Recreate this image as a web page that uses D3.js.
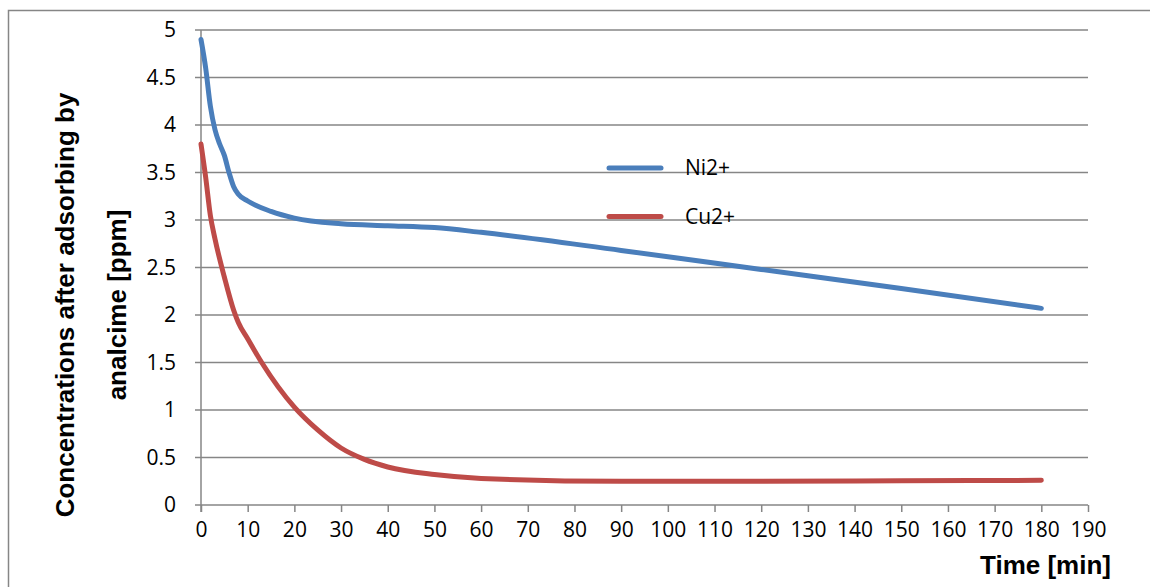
<!DOCTYPE html>
<html>
<head>
<meta charset="utf-8">
<script src="https://cdn.jsdelivr.net/npm/d3@7"></script>
<style>
  html, body { margin: 0; padding: 0; background: #fff; }
  svg { display: block; }
</style>
</head>
<body>
<svg id="chart" width="1150" height="587"></svg>
<script>
// ---- data ----
const niTime = [0, 1, 2, 3, 4, 5, 6, 7, 8, 10, 15, 20, 30, 40, 50, 60, 90, 120, 150, 180];
const niConc = [4.9, 4.6, 4.2, 3.95, 3.8, 3.68, 3.5, 3.35, 3.27, 3.2, 3.09, 3.02, 2.96, 2.94, 2.92, 2.87, 2.68, 2.48, 2.28, 2.07];
const cuTime = [0, 1, 2, 3, 5, 7, 8, 10, 13, 20, 25, 30, 35, 40, 50, 60, 90, 120, 150, 180];
const cuConc = [3.8, 3.45, 3.05, 2.8, 2.4, 2.05, 1.92, 1.75, 1.5, 1.03, 0.79, 0.6, 0.48, 0.4, 0.32, 0.28, 0.25, 0.25, 0.255, 0.26];
const seriesNames = ["Ni2+", "Cu2+"];
const seriesColors = ["#4a7ebb", "#be4b48"];
const xTicks = d3.range(0, 191, 10);
const yTicks = [0, 0.5, 1, 1.5, 2, 2.5, 3, 3.5, 4, 4.5, 5];
const xTitle = "Time [min]";
const yTitleLines = ["Concentrations after adsorbing by", "analcime [ppm]"];

(function () {
// ---- layout ----
const svg = d3.select("#chart");
const pLeft = 201, pRight = 1088, pTop = 30, pBottom = 505;
const x = d3.scaleLinear().domain([0, 190]).range([pLeft, pRight]);
const y = d3.scaleLinear().domain([0, 5]).range([pBottom, pTop]);
const gridColor = "#868686";

// outer frame
svg.append("rect").attr("x", 8.5).attr("y", 10.5).attr("width", 1160).attr("height", 600)
  .attr("fill", "none").attr("stroke", gridColor).attr("stroke-width", 1.5);

// horizontal gridlines (extend left as tick marks)
svg.append("g").selectAll("line").data(yTicks.filter(d => d > 0)).join("line")
  .attr("x1", pLeft - 6).attr("x2", pRight)
  .attr("y1", d => y(d)).attr("y2", d => y(d))
  .attr("stroke", gridColor).attr("stroke-width", 1.5);

// x axis
const xAxis = d3.axisBottom(x).tickValues(xTicks).tickSize(7).tickPadding(10).tickFormat(d3.format("d"));
const gx = svg.append("g").attr("transform", `translate(0,${pBottom})`).call(xAxis);
gx.select(".domain").remove();
gx.append("line").attr("x1", pLeft - 6).attr("x2", pRight).attr("stroke", gridColor).attr("stroke-width", 1.5);
gx.selectAll(".tick line").attr("stroke", gridColor).attr("stroke-width", 1.5);
gx.selectAll(".tick text").attr("fill", "#000").attr("font-family", "Open Sans").attr("font-size", 21).attr("dy", "0.72em");

// y axis
const yAxis = d3.axisLeft(y).tickValues(yTicks).tickSize(0).tickPadding(25).tickFormat(d => String(d));
const gy = svg.append("g").attr("transform", `translate(${pLeft},0)`).call(yAxis);
gy.select(".domain").remove();
gy.append("line").attr("y1", pTop).attr("y2", pBottom + 7).attr("stroke", gridColor).attr("stroke-width", 1.5);
gy.selectAll(".tick text").attr("fill", "#000").attr("font-family", "Open Sans").attr("font-size", 21);

// series
const series = [
  { name: seriesNames[0], color: seriesColors[0], pts: niTime.map((t, i) => [t, niConc[i]]) },
  { name: seriesNames[1], color: seriesColors[1], pts: cuTime.map((t, i) => [t, cuConc[i]]) }
];
const line = d3.line().x(d => x(d[0])).y(d => y(d[1])).curve(d3.curveMonotoneX);
svg.append("g").selectAll("path").data(series).join("path")
  .attr("d", d => line(d.pts))
  .attr("fill", "none").attr("stroke", d => d.color).attr("stroke-width", 5)
  .attr("stroke-linecap", "round").attr("stroke-linejoin", "round");

// legend
const lg = svg.append("g");
series.forEach((s, i) => {
  const ly = 168 + i * 48.5;
  lg.append("line").attr("x1", 609).attr("x2", 661).attr("y1", ly).attr("y2", ly)
    .attr("stroke", s.color).attr("stroke-width", 5).attr("stroke-linecap", "round");
  lg.append("text").attr("x", 685).attr("y", ly).attr("dy", "0.35em")
    .attr("font-family", "Open Sans").attr("font-size", 21).attr("fill", "#000").text(s.name);
});

// axis titles
svg.append("text").attr("x", 1111).attr("y", 574).attr("text-anchor", "end")
  .attr("font-family", "Liberation Sans, Arial, sans-serif").attr("font-weight", "bold")
  .attr("font-size", 26).attr("fill", "#000").text(xTitle);

yTitleLines.forEach((t, i) => {
  const cx = 65 + i * 52, cy = 305;
  svg.append("text").attr("transform", `translate(${cx + 9},${cy}) rotate(-90)`)
    .attr("text-anchor", "middle")
    .attr("font-family", "Liberation Sans, Arial, sans-serif").attr("font-weight", "bold")
    .attr("font-size", 26).attr("fill", "#000").text(t);
});
})();
</script>
</body>
</html>
